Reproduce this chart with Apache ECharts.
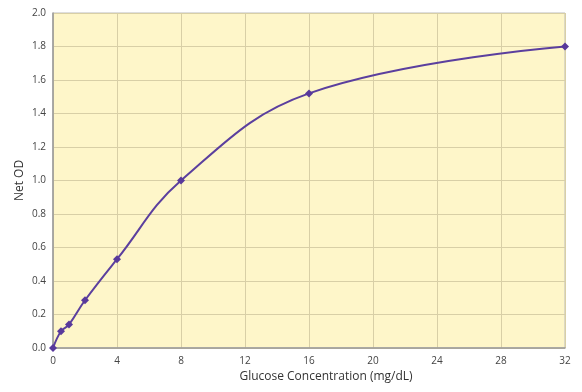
<!DOCTYPE html>
<html><head><meta charset="utf-8">
<script src="https://cdn.jsdelivr.net/npm/echarts@6/dist/echarts.min.js"></script>
<style>html,body{margin:0;padding:0;background:#fff}#c{width:582px;height:392px}</style>
</head><body><div id="c"></div>
<script>
const concentration = [0, 0.5, 1, 2, 4, 8, 16, 32];
const netOD = [0, 0.10, 0.14, 0.285, 0.53, 1.0, 1.52, 1.80];
const xTicks = [0, 4, 8, 12, 16, 20, 24, 28, 32];
const yTicks = [0, 0.2, 0.4, 0.6, 0.8, 1.0, 1.2, 1.4, 1.6, 1.8, 2.0];

const chart = echarts.init(document.getElementById('c'), null, {renderer: 'canvas'});
const font = '"Open Sans", sans-serif';
chart.setOption({
  animation: false,
  grid: {left: 53, right: 17, top: 13, bottom: 44, show: true, backgroundColor: '#FEF6C9', borderColor: '#BDBDBD', borderWidth: 1},
  xAxis: {
    type: 'value', min: 0, max: 32, interval: 4,
    name: 'Glucose Concentration (mg/dL)', nameLocation: 'middle', nameGap: 23,
    nameTextStyle: {fontFamily: font, fontSize: 12, color: '#333', padding: [0, 0, 0, 34]},
    axisLine: {lineStyle: {color: '#999', width: 1.5}},
    axisTick: {show: false},
    axisLabel: {fontFamily: font, fontSize: 10, color: '#444', margin: 8, formatter: v => xTicks.includes(v) ? String(v) : ''},
    splitLine: {lineStyle: {color: '#D8CFA6', width: 1}}
  },
  yAxis: {
    type: 'value', min: 0, max: 2.0, interval: 0.2,
    name: 'Net OD', nameLocation: 'middle', nameGap: 27, nameMoveOverlap: false,
    nameTextStyle: {fontFamily: font, fontSize: 12, color: '#333'},
    axisLine: {show: true, lineStyle: {color: '#999', width: 1.5}},
    axisTick: {show: false},
    axisLabel: {fontFamily: font, fontSize: 10, color: '#444', margin: 7, formatter: v => yTicks.some(t => Math.abs(t - v) < 1e-9) ? v.toFixed(1) : ''},
    splitLine: {lineStyle: {color: '#D8CFA6', width: 1}}
  },
  series: [{
    type: 'line',
    data: concentration.map((x, i) => [x, netOD[i]]),
    smooth: 0.4,
    symbol: 'diamond', symbolSize: 8,
    itemStyle: {color: '#58399B'},
    lineStyle: {color: '#5B3F9E', width: 2}
  }]
});
</script></body></html>
